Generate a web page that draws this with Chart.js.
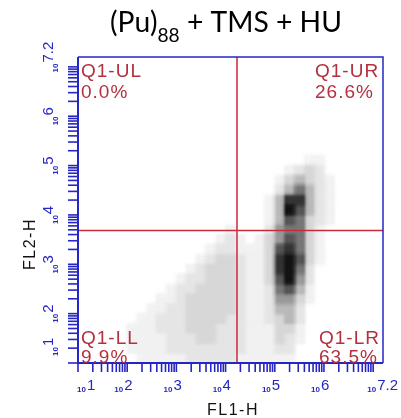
<!DOCTYPE html>
<html><head><meta charset="utf-8">
<style>html,body{margin:0;padding:0;background:#fff;overflow:hidden}#wrap{width:401px;height:418px}</style>
<script src="https://cdn.jsdelivr.net/npm/chart.js@4"></script>
</head><body><div id="wrap"><canvas id="c" width="401" height="418"></canvas></div>
<script>
// ---- data ----
const titleParts = ["(Pu)", "88", " + TMS + HU"];      // main, subscript, rest
const xAxisTitle = "FL1-H";
const yAxisTitle = "FL2-H";
const axisMinExp = 1, axisMaxExp = 7.2;
const tickLabelExps = ["1", "2", "3", "4", "5", "6", "7.2"];
const gateX = 17060, gateY = 4840;                    // quadrant gate (FL1-H, FL2-H)
const quadNames = ["Q1-UL", "Q1-UR", "Q1-LL", "Q1-LR"];
const quadPercents = ["0.0%", "26.6%", "9.9%", "63.5%"];
// density grid: 31 columns (0.2 decade each from 10^1), 31 rows (0.2 decade each from 10^7.2 downward), level 0-9
const gridStep = 0.2;
const densityRows = [
"0000000000000000000000000000000",
"0000000000000000000000000000000",
"0000000000000000000000000000000",
"0000000000000000000000000000000",
"0000000000000000000000000000000",
"0000000000000000000000000000000",
"0000000000000000000000000000000",
"0000000000000000000000000000000",
"0000000000000000000000000000000",
"0000000000000000000000000000000",
"0000000000000000000000011000000",
"0000000000000000000001232000000",
"0000000000000000000013432100000",
"0000000000000000000024642100000",
"0000000000000000000148842100000",
"0000000000000000000149742100000",
"0000000000000000000147632100000",
"0000000000000001000256631000000",
"0000000000000012101357631000000",
"0000000000000122111378631000000",
"0000000000001233211389731000000",
"0000000000012333211389620000000",
"0000000000122333211379520000000",
"0000000001223333211267410000000",
"0000000011233333211255310000000",
"0000000112233333211244200000000",
"0000001122233332211234200000000",
"0000011122233322211133100000000",
"0000011112223322211132100000000",
"0000011112222222211122000000000",
"0000001111122222111111000000000"
];
const levelShades = ["#ffffff","#f1f1f1","#e5e5e5","#d7d7d7","#b9b9b9","#999999","#777777","#555555","#333333","#141414"];

// ---- build cells ----
const cells = [];
densityRows.forEach((row, j) => {
  for (let i = 0; i < row.length; i++) {
    const v = +row[i];
    if (v > 0) cells.push({ x: Math.pow(10, axisMinExp + gridStep * (i + 0.5)), y: Math.pow(10, axisMaxExp - gridStep * (j + 0.5)), v });
  }
});
cells.sort((a, b) => a.v - b.v);

const BLUE = "#2626c4", RED = "#c82a3c", QRED = "#b3303f";

const decor = {
  id: "decor",
  afterDatasetsDraw(chart) {
    const ctx = chart.ctx;
    const xs = chart.scales.x, ys = chart.scales.y, a = chart.chartArea;
    // soften the density cells (down/up-sampling of the plotted area)
    const W = Math.round(a.right - a.left), H = Math.round(a.bottom - a.top);
    const k = 3;
    const tmp = document.createElement("canvas");
    tmp.width = Math.ceil(W / k); tmp.height = Math.ceil(H / k);
    const t = tmp.getContext("2d");
    t.imageSmoothingEnabled = true; t.imageSmoothingQuality = "high";
    t.drawImage(chart.canvas, a.left, a.top, W, H, 0, 0, tmp.width, tmp.height);
    ctx.save();
    ctx.clearRect(a.left, a.top, W, H);
    ctx.imageSmoothingEnabled = true; ctx.imageSmoothingQuality = "high";
    ctx.drawImage(tmp, 0, 0, tmp.width, tmp.height, a.left, a.top, W, H);
    ctx.restore();
    const gx = xs.getPixelForValue(gateX), gy = ys.getPixelForValue(gateY);
    ctx.save();
    ctx.strokeStyle = RED; ctx.lineWidth = 1.5;
    ctx.beginPath(); ctx.moveTo(gx, a.top); ctx.lineTo(gx, a.bottom); ctx.stroke();
    ctx.beginPath(); ctx.moveTo(a.left, gy); ctx.lineTo(a.right, gy); ctx.stroke();
    ctx.restore();
  },
  afterDraw(chart) {
    const ctx = chart.ctx, xs = chart.scales.x, ys = chart.scales.y, a = chart.chartArea;
    const maxV = Math.pow(10, axisMaxExp), minV = Math.pow(10, axisMinExp);
    ctx.save();
    // frame
    ctx.strokeStyle = BLUE;
    ctx.lineWidth = 1.5;
    ctx.beginPath(); ctx.moveTo(a.left, a.top); ctx.lineTo(a.right, a.top); ctx.lineTo(a.right, a.bottom); ctx.stroke();
    ctx.lineWidth = 2;
    ctx.beginPath(); ctx.moveTo(a.left, a.top); ctx.lineTo(a.left, a.bottom); ctx.lineTo(a.right, a.bottom); ctx.stroke();
    // ticks
    ctx.lineWidth = 1.6;
    for (let e = axisMinExp; e <= 7; e++) {
      for (let m = 1; m <= 9; m++) {
        const v = m * Math.pow(10, e);
        if (v > maxV || v < minV) continue;
        const px = xs.getPixelForValue(v), py = ys.getPixelForValue(v);
        ctx.beginPath(); ctx.moveTo(px, a.bottom); ctx.lineTo(px, a.bottom + 9); ctx.stroke();
        ctx.beginPath(); ctx.moveTo(a.left, py); ctx.lineTo(a.left - 10, py); ctx.stroke();
      }
    }
    // tick labels
    ctx.fillStyle = BLUE;
    const smallFont = "bold 8px 'Liberation Sans', Arial, sans-serif";
    const expFont = "15px 'Liberation Sans', Arial, sans-serif";
    tickLabelExps.forEach(ex => {
      const v = Math.pow(10, parseFloat(ex));
      ctx.font = smallFont; const ws = ctx.measureText("10").width;
      ctx.font = expFont; const we = ctx.measureText(ex).width;
      const L = ws + 1 + we;
      // x axis
      const px = xs.getPixelForValue(v);
      let left = px - 3 - 1 - ws;
      if (left < a.left - 1) left = a.left - 1;
      if (left + L > 398) left = 398 - L;
      ctx.textAlign = "left"; ctx.textBaseline = "alphabetic";
      ctx.font = smallFont; ctx.fillText("10", left, a.bottom + 29);
      ctx.font = expFont; ctx.fillText(ex, left + ws + 1, a.bottom + 27);
      // y axis (rotated)
      const py = ys.getPixelForValue(v);
      let bottom = py + L / 2;
      if (bottom > a.bottom - 7) bottom = a.bottom - 7;
      ctx.save();
      ctx.translate(a.left - 25, bottom); ctx.rotate(-Math.PI / 2);
      ctx.font = smallFont; ctx.fillText("10", 0, 5);
      ctx.font = expFont; ctx.fillText(ex, ws + 1, 0);
      ctx.restore();
    });
    // axis titles
    ctx.fillStyle = "#111";
    ctx.font = "16px 'Liberation Sans', Arial, sans-serif";
    ctx.letterSpacing = "1.5px";
    ctx.textAlign = "center";
    ctx.fillText(xAxisTitle, 233, 415);
    ctx.save(); ctx.translate(35, 244); ctx.rotate(-Math.PI / 2);
    ctx.fillText(yAxisTitle, 0, 0); ctx.restore();
    // quadrant labels
    ctx.fillStyle = QRED;
    ctx.font = "19px 'Liberation Sans', Arial, sans-serif";
    ctx.letterSpacing = "1px";
    ctx.textAlign = "left";
    ctx.fillText(quadNames[0], a.left + 3, a.top + 20);
    ctx.fillText(quadPercents[0], a.left + 3, a.top + 41);
    ctx.fillText(quadNames[1], 315, a.top + 20);
    ctx.fillText(quadPercents[1], 315, a.top + 41);
    ctx.fillText(quadNames[2], a.left + 3, a.bottom - 19);
    ctx.fillText(quadPercents[2], a.left + 3, a.bottom);
    ctx.fillText(quadNames[3], 319, a.bottom - 19);
    ctx.fillText(quadPercents[3], 319, a.bottom);
    ctx.letterSpacing = "0px";
    // title with subscript
    let F = 28;
    const measure = (f) => {
      ctx.font = f + "px Lato, 'Open Sans', sans-serif"; const w1 = ctx.measureText(titleParts[0]).width, w3 = ctx.measureText(titleParts[2]).width;
      ctx.font = (f * 0.68) + "px Lato, 'Open Sans', sans-serif"; const w2 = ctx.measureText(titleParts[1]).width;
      return [w1, w2, w3];
    };
    let w = measure(F); let tot = w[0] + w[1] + w[2];
    F = F * 232 / tot; w = measure(F); tot = w[0] + w[1] + w[2];
    let tx = 226 - tot / 2;
    ctx.fillStyle = "#000"; ctx.textAlign = "left";
    ctx.font = F + "px Lato, 'Open Sans', sans-serif"; ctx.fillText(titleParts[0], tx, 32); tx += w[0];
    ctx.font = (F * 0.68) + "px Lato, 'Open Sans', sans-serif"; ctx.fillText(titleParts[1], tx, 42); tx += w[1];
    ctx.font = F + "px Lato, 'Open Sans', sans-serif"; ctx.fillText(titleParts[2], tx, 32);
    ctx.restore();
  }
};

new Chart(document.getElementById("c"), {
  type: "scatter",
  data: { datasets: [{
    data: cells,
    pointStyle: "rect",
    borderWidth: 0,
    pointRadius: (c) => {
      const s = c.chart.scales.x;
      const cw = s.getPixelForValue(Math.pow(10, axisMinExp + gridStep)) - s.getPixelForValue(Math.pow(10, axisMinExp));
      return (cw + 1.2) / (2 * Math.SQRT1_2);
    },
    pointHoverRadius: 0,
    backgroundColor: (c) => levelShades[c.raw ? c.raw.v : 0],
  }]},
  options: {
    responsive: false, animation: false, devicePixelRatio: 1,
    layout: { padding: { left: 78, right: 18, top: 57, bottom: 55 } },
    plugins: { legend: { display: false }, tooltip: { enabled: false }, title: { display: false } },
    scales: {
      x: { type: "logarithmic", min: Math.pow(10, axisMinExp), max: Math.pow(10, axisMaxExp), display: false },
      y: { type: "logarithmic", min: Math.pow(10, axisMinExp), max: Math.pow(10, axisMaxExp), display: false }
    }
  },
  plugins: [decor]
});
</script>
</body></html>
